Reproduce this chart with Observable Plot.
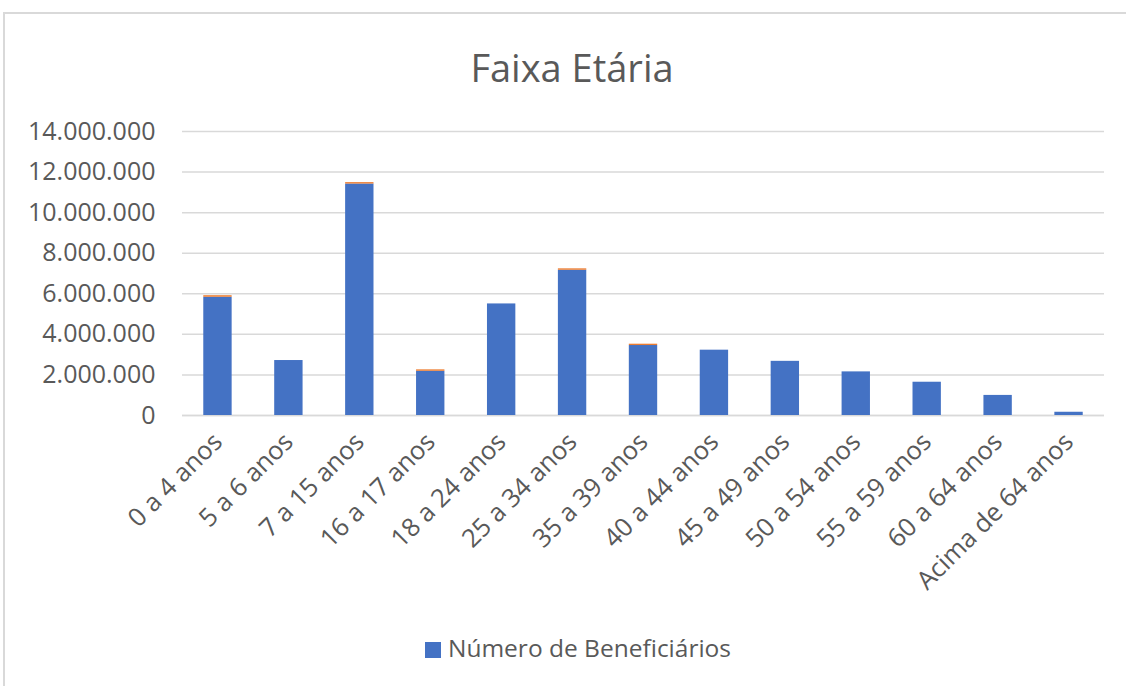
<!DOCTYPE html>
<html>
<head>
<meta charset="utf-8">
<script src="https://cdn.jsdelivr.net/npm/d3@7"></script>
<script src="https://cdn.jsdelivr.net/npm/@observablehq/plot@0.6"></script>
<style>
  html, body { margin: 0; padding: 0; background: #fff; }
  #wrap { position: relative; width: 1126px; height: 686px; overflow: hidden; background: #fff; font-family: "Open Sans", sans-serif; }
  #frame { position: absolute; left: 3px; top: 12px; width: 1200px; height: 800px; border-left: 2px solid #d9d9d9; border-top: 2px solid #d9d9d9; }
  #title { position: absolute; top: 48px; left: 0; width: 1144px; text-align: center; font-size: 38px; color: #595959; line-height: 1; }
  #chart { position: absolute; left: 0; top: 100px; }
  #legend { position: absolute; top: 636px; left: 0; width: 1156px; text-align: center; font-size: 24.5px; color: #595959; line-height: 1; }
  #legend .sw { display: inline-block; width: 16px; height: 16px; background: #4472C4; margin-right: 7px; vertical-align: -1px; }
</style>
</head>
<body>
<div id="wrap">
  <div id="frame"></div>
  <div id="title">Faixa Etária</div>
  <div id="chart"></div>
  <div id="legend"><span class="sw"></span>Número de Beneficiários</div>
</div>
<script>
const categories = ["0 a 4 anos", "5 a 6 anos", "7 a 15 anos", "16 a 17 anos", "18 a 24 anos", "25 a 34 anos", "35 a 39 anos", "40 a 44 anos", "45 a 49 anos", "50 a 54 anos", "55 a 59 anos", "60 a 64 anos", "Acima de 64 anos"];
const beneficiarios = [5830000, 2710000, 11410000, 2180000, 5500000, 7160000, 3450000, 3220000, 2670000, 2150000, 1640000, 990000, 160000];
const outros = [75000, 0, 70000, 70000, 0, 70000, 65000, 0, 0, 0, 0, 0, 0];
const seriesNames = ["Número de Beneficiários", "Outros"];
const seriesColors = ["#4472C4", "#ED7D31"];
const yTicks = [0, 2000000, 4000000, 6000000, 8000000, 10000000, 12000000, 14000000];

const rows = [];
categories.forEach((c, i) => {
  rows.push({cat: c, serie: seriesNames[0], value: beneficiarios[i]});
  rows.push({cat: c, serie: seriesNames[1], value: outros[i]});
});

const fmt = d => d3.format(",")(d).replace(/,/g, ".");

const chart = Plot.plot({
  width: 1126,
  height: 520,
  marginLeft: 182,
  marginRight: 22,
  marginTop: 31,
  marginBottom: 205,
  style: {fontFamily: "Open Sans, sans-serif", color: "#595959", background: "transparent"},
  x: {domain: categories, paddingInner: 0.6, paddingOuter: 0.3, round: false, label: null},
  y: {domain: [0, 14000000], label: null},
  color: {domain: seriesNames, range: seriesColors},
  marks: [
    Plot.gridY(yTicks, {stroke: "#d9d9d9", strokeOpacity: 1, strokeWidth: 1.5}),
    Plot.axisY(yTicks, {tickSize: 0, tickPadding: 27, tickFormat: fmt, fontSize: 25, fill: "#595959", label: null}),
    Plot.ruleY([0], {stroke: "#d9d9d9", strokeWidth: 1.5}),
    Plot.barY(rows, {x: "cat", y: "value", fill: "serie", order: seriesNames}),
    Plot.axisX({tickSize: 0, tickRotate: -45, tickPadding: 22, fontSize: 25.5, fill: "#595959", label: null})
  ]
});
document.getElementById("chart").appendChild(chart);
</script>
</body>
</html>
